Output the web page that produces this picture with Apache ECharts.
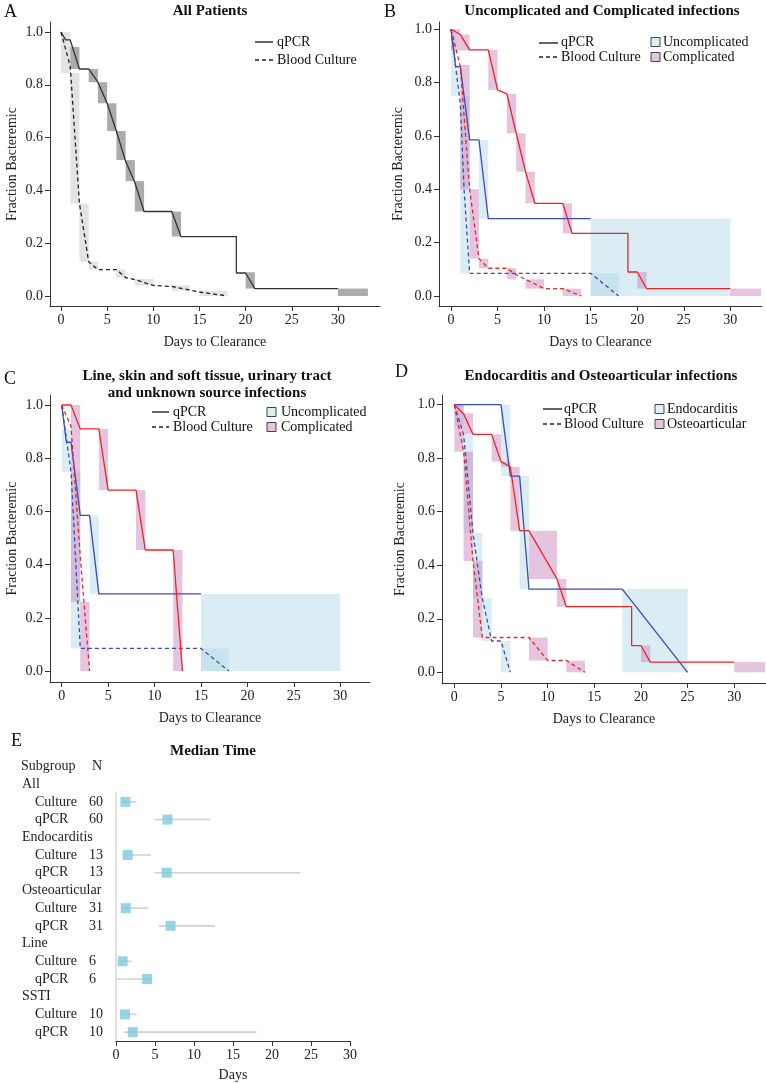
<!DOCTYPE html>
<html><head><meta charset="utf-8">
<script src="https://cdn.jsdelivr.net/npm/echarts@6/dist/echarts.min.js"></script>
<style>html,body{margin:0;padding:0;background:#fff}#c{width:766px;height:1083px}</style>
</head><body><div id="c"></div>
<script>
// ---------- Panel A: All patients ----------
const A_qpcr = [[0,1],[0.5,0.97],[1,0.97],[2,0.86],[3,0.86],[4,0.81],[5,0.73],[6,0.625],[7,0.51],[8,0.43],[9,0.32],[12,0.32],[13,0.225],[19,0.225],[19,0.087],[20,0.087],[21,0.028],[30,0.028]];
const A_culture = [[0,1],[1,0.87],[2,0.35],[3,0.13],[4,0.10],[6,0.10],[7,0.07],[8,0.062],[10,0.04],[12,0.036],[15,0.015],[18,0]];
const A_qpcrBox = [[1,2,0.86,0.944],[3,4,0.81,0.86],[4,5,0.73,0.81],[5,6,0.625,0.73],[6,7,0.515,0.625],[7,8,0.435,0.515],[8,9,0.32,0.435],[12,13,0.225,0.32],[20,21,0.028,0.09],[30,33.25,0,0.028]];
const A_cultureBox = [[0,1,0.845,1.0],[1,2,0.35,0.845],[2,3,0.13,0.35],[3,4,0.10,0.13],[6,7,0.07,0.10],[8,10,0.04,0.065],[12,14,0.02,0.04],[15,18,0,0.02]];

// ---------- Panel B: Uncomplicated vs Complicated ----------
const B_uncQpcr = [[0,1],[0.5,0.86],[1,0.86],[2,0.585],[3,0.585],[4,0.29],[15,0.29]];
const B_uncCulture = [[0,1],[1,0.72],[1.4,0.4],[2,0.085],[15,0.085],[18,0]];
const B_comQpcr = [[0,1],[1,0.98],[2,0.9225],[4,0.9225],[5,0.7725],[6,0.7575],[7,0.61],[8,0.466],[9,0.3475],[12,0.3475],[13,0.235],[19,0.235],[19,0.09],[20,0.09],[21,0.028],[30,0.028]];
const B_comCulture = [[0,1],[1,0.86],[2,0.4],[3,0.14],[4,0.104],[6,0.104],[7,0.08],[8,0.0625],[10,0.0275],[12,0.0275],[14,0]];
const B_uncBox = [[0,0.5,0.86,1.0],[0,1,0.75,0.86],[1,2,0.085,0.75],[3,4,0.29,0.585],[15,30,0,0.29],[15,18,0,0.085]];
const B_comBox = [[0,1,0.92,1.0],[1,2,0.92,0.98],[1,2,0.4,0.866],[2,3,0.14,0.4],[3,4,0.104,0.14],[4,5,0.7725,0.9225],[6,7,0.61,0.7575],[7,8,0.466,0.61],[8,9,0.3475,0.466],[6,7,0.0625,0.104],[8,10,0.0275,0.0625],[12,13,0.235,0.3475],[12,14,0,0.0275],[20,21,0.028,0.09],[30,33.3,0,0.028]];

// ---------- Panel C: Line, SSTI, urinary, unknown ----------
const C_uncQpcr = [[0,1],[0.5,0.86],[1,0.86],[2,0.585],[3,0.585],[4,0.29],[15,0.29]];
const C_uncCulture = [[0,1],[1,0.75],[1.5,0.42],[2,0.085],[15,0.085],[18,0]];
const C_comQpcr = [[0,1],[1,1],[2,0.91],[4,0.91],[5,0.68],[8,0.68],[9,0.455],[12,0.455],[13,0]];
const C_comCulture = [[0,1],[1,0.92],[2,0.43],[3,0]];
const C_uncBox = [[0,1,0.75,0.91],[1,2,0.085,0.75],[3,4,0.29,0.585],[15,30,0,0.29],[15,18,0,0.085]];
const C_comBox = [[1,2,0.26,1.0],[2,3,0,0.26],[4,5,0.68,0.91],[8,9,0.455,0.68],[12,13,0,0.455]];

// ---------- Panel D: Endocarditis vs Osteoarticular ----------
const D_endQpcr = [[0,1],[5,1],[6,0.733],[7,0.733],[8,0.311],[18,0.311],[25,0]];
const D_endCulture = [[0,1],[1,0.887],[2,0.52],[3,0.277],[4,0.117],[5,0.117],[6,0]];
const D_ostQpcr = [[0,1],[1,0.965],[2,0.889],[4,0.889],[5,0.787],[6,0.768],[7,0.529],[8,0.529],[11,0.349],[12,0.245],[19,0.245],[19,0.1],[20,0.1],[21,0.038],[30,0.038]];
const D_ostCulture = [[0,1],[1,0.824],[2,0.416],[3,0.13],[8,0.13],[10,0.044],[12,0.044],[14,0]];
const D_endBox = [[0,1,0.92,1.0],[1,2,0.52,0.887],[2,3,0.277,0.52],[3,4,0.117,0.277],[5,6,0.733,1.0],[7,8,0.311,0.733],[5,6,0,0.117],[18,25,0,0.311]];
const D_ostBox = [[0,1,0.824,1.0],[1,2,0.889,0.968],[1,2,0.416,0.824],[2,3,0.13,0.416],[4,5,0.787,0.889],[5,6,0.768,0.787],[6,7,0.529,0.768],[8,11,0.349,0.529],[11,12,0.245,0.349],[8,10,0.044,0.13],[12,14,0,0.044],[20,21,0.038,0.1],[30,33.3,0,0.038]];

// ---------- Panel E: Median time ----------
const E_groups = ['All','Endocarditis','Osteoarticular','Line','SSTI'];
const E_methods = ['Culture','qPCR'];
const E_N = [[60,60],[13,13],[31,31],[6,6],[10,10]];
const E_median = [[1.2,6.6],[1.5,6.5],[1.25,7.0],[0.85,4.0],[1.15,2.15]];
const E_ciLow = [[0.9,4.9],[0.85,4.9],[0.9,5.5],[0.5,0.15],[0.7,1.0]];
const E_ciHigh = [[2.55,12.05],[4.45,23.6],[4.15,12.7],[2.0,4.3],[2.65,18.0]];

const xTicks = [0,5,10,15,20,25,30];
const yTicks = [0,0.2,0.4,0.6,0.8,1.0];

// ---------- styling ----------
const FONT = '"Liberation Serif", "Times New Roman", serif';
const TXT = '#222';
const AX = '#333';
const RED = '#ee2424';
const BLUE = '#3c4cb4';
const C_BLUE_BOX = 'rgba(173,216,230,0.45)';
const C_PINK_BOX = 'rgba(200,130,190,0.47)';
const C_DARK_BOX = 'rgba(90,90,90,0.5)';
const C_LIGHT_BOX = 'rgba(150,150,150,0.27)';

const panels = [
  {grid:{left:50, top:22, width:330, height:284}, x:[-1.19,34.56], y:[-0.038,1.038], yGap:31},
  {grid:{left:439, top:22, width:323, height:284}, x:[-1.29,33.4], y:[-0.0375,1.027], yGap:34},
  {grid:{left:50, top:395, width:320, height:287}, x:[-1.26,33.2], y:[-0.041,1.0376], yGap:31},
  {grid:{left:442, top:395, width:324, height:288}, x:[-1.32,33.4], y:[-0.040,1.036], yGap:35}
];

const grids = panels.map(p => p.grid).concat([{left:116, top:793, width:234, height:248}]);
const labelStyle = {fontFamily:FONT, fontSize:14, color:TXT};

const xAxes = panels.map((p,i) => ({
  type:'value', gridIndex:i, min:p.x[0], max:p.x[1],
  splitLine:{show:false},
  axisLine:{show:true, onZero:false, lineStyle:{color:AX, width:1}},
  axisTick:{show:true, length:5, customValues:xTicks, lineStyle:{color:AX}},
  axisLabel:Object.assign({customValues:xTicks, margin:7}, labelStyle),
  name:'Days to Clearance', nameLocation:'middle', nameGap:29,
  nameTextStyle:labelStyle
}));
const yAxes = panels.map((p,i) => ({
  type:'value', gridIndex:i, min:p.y[0], max:p.y[1],
  splitLine:{show:false},
  axisLine:{show:true, onZero:false, lineStyle:{color:AX, width:1}},
  axisTick:{show:true, length:5, customValues:yTicks, lineStyle:{color:AX}},
  axisLabel:Object.assign({customValues:yTicks, margin:7, formatter:v => v.toFixed(1)}, labelStyle),
  name:'Fraction Bacteremic', nameLocation:'middle', nameGap:p.yGap,
  nameTextStyle:labelStyle
}));
xAxes.push({
  type:'value', gridIndex:4, min:0, max:30, interval:5,
  splitLine:{show:false},
  axisLine:{show:true, onZero:false, lineStyle:{color:AX}},
  axisTick:{show:true, length:5, lineStyle:{color:AX}},
  axisLabel:Object.assign({margin:7}, labelStyle),
  name:'Days', nameLocation:'middle', nameGap:27, nameTextStyle:labelStyle
});
yAxes.push({
  type:'value', gridIndex:4, min:0.5, max:14.5, inverse:true,
  splitLine:{show:false},
  axisLine:{show:true, onZero:false, lineStyle:{color:'#d6d6d6', width:1.5}},
  axisTick:{show:false}, axisLabel:{show:false}
});

function boxSeries(idx, data, color){
  return {
    type:'custom', xAxisIndex:idx, yAxisIndex:idx, data:data, z:1, silent:true,
    encode:{x:[0,1], y:[2,3]},
    renderItem:function(params, api){
      const a = api.coord([api.value(0), api.value(3)]);
      const b = api.coord([api.value(1), api.value(2)]);
      return {type:'rect', shape:{x:a[0], y:a[1], width:b[0]-a[0], height:b[1]-a[1]}, style:{fill:color}};
    }
  };
}
function lineSeries(idx, data, color, dashed){
  return {
    type:'line', xAxisIndex:idx, yAxisIndex:idx, data:data, z:3, silent:true,
    showSymbol:false, symbol:'none',
    lineStyle:{color:color, width:1.3, type: dashed ? [4,3] : 'solid'}
  };
}

const series = [
  boxSeries(0, A_cultureBox, C_LIGHT_BOX),
  boxSeries(0, A_qpcrBox, C_DARK_BOX),
  lineSeries(0, A_qpcr, '#333', false),
  lineSeries(0, A_culture, '#222', true),

  boxSeries(1, B_uncBox, C_BLUE_BOX),
  boxSeries(1, B_comBox, C_PINK_BOX),
  lineSeries(1, B_uncQpcr, BLUE, false),
  lineSeries(1, B_uncCulture, BLUE, true),
  lineSeries(1, B_comQpcr, RED, false),
  lineSeries(1, B_comCulture, RED, true),

  boxSeries(2, C_uncBox, C_BLUE_BOX),
  boxSeries(2, C_comBox, C_PINK_BOX),
  lineSeries(2, C_uncQpcr, BLUE, false),
  lineSeries(2, C_uncCulture, BLUE, true),
  lineSeries(2, C_comQpcr, RED, false),
  lineSeries(2, C_comCulture, RED, true),

  boxSeries(3, D_endBox, C_BLUE_BOX),
  boxSeries(3, D_ostBox, C_PINK_BOX),
  lineSeries(3, D_endQpcr, BLUE, false),
  lineSeries(3, D_endCulture, BLUE, true),
  lineSeries(3, D_ostQpcr, RED, false),
  lineSeries(3, D_ostCulture, RED, true)
];

// ---------- Panel E series ----------
const eTexts = [[-1,'Subgroup',-95],[-1,'N',-24]];
const eCI = [], ePts = [];
E_groups.forEach((g, gi) => {
  const base = gi*3;
  eTexts.push([base, g, -94]);
  E_methods.forEach((m, mi) => {
    const row = base + 1 + mi;
    eTexts.push([row, m, -81]);
    eTexts.push([row, String(E_N[gi][mi]), -27]);
    eCI.push([E_ciLow[gi][mi], E_ciHigh[gi][mi], row]);
    ePts.push([E_median[gi][mi], row]);
  });
});
series.push({
  type:'custom', xAxisIndex:4, yAxisIndex:4, data:eCI, z:2, silent:true,
  encode:{x:[0,1], y:2},
  renderItem:function(params, api){
    const a = api.coord([api.value(0), api.value(2)]);
    const b = api.coord([api.value(1), api.value(2)]);
    return {type:'line', shape:{x1:a[0], y1:a[1], x2:b[0], y2:b[1]}, style:{stroke:'#d0d0d0', lineWidth:1.6}};
  }
});
series.push({
  type:'scatter', xAxisIndex:4, yAxisIndex:4, data:ePts, z:3, silent:true,
  symbol:'rect', symbolSize:10, itemStyle:{color:'#7ecbdd'}
});
series.push({
  type:'custom', xAxisIndex:4, yAxisIndex:4, silent:true, clip:false, z:3,
  data:eTexts.map(t => [0, t[0]]),
  encode:{x:0, y:1},
  renderItem:function(params, api){
    const t = eTexts[params.dataIndex];
    const p = api.coord([0, api.value(1)]);
    return {type:'text', x:p[0] + t[2], y:p[1], style:{text:t[1], fill:TXT, font:'14px ' + FONT, align:'left', verticalAlign:'middle'}};
  }
});

// ---------- titles, letters, legends ----------
const titleFont = 'bold 15px ' + FONT;
const bodyFont = '14px ' + FONT;
function txt(x, y, s, font, align){
  return {type:'text', x:x, y:y, silent:true, style:{text:s, font:font, fill:'#111', align:align||'left', verticalAlign:'middle'}};
}
function seg(x1, x2, y, dashed){
  return {type:'line', silent:true, shape:{x1:x1, y1:y, x2:x2, y2:y}, style:{stroke:'#222', lineWidth:1.4, lineDash: dashed ? [4,3] : null}};
}
function sq(x, y, fill){
  return {type:'rect', silent:true, shape:{x:x, y:y-4.5, width:9, height:9}, style:{fill:fill, stroke:'#444', lineWidth:1}};
}
const graphics = [
  txt(4, 12, 'A', '18px ' + FONT), txt(210, 11, 'All Patients', titleFont, 'center'),
  txt(384, 12, 'B', '18px ' + FONT), txt(602, 11, 'Uncomplicated and Complicated infections', titleFont, 'center'),
  txt(4, 379, 'C', '18px ' + FONT),
  txt(207, 376, 'Line, skin and soft tissue, urinary tract', titleFont, 'center'),
  txt(207, 393, 'and unknown source infections', titleFont, 'center'),
  txt(395, 372, 'D', '18px ' + FONT), txt(601, 376, 'Endocarditis and Osteoarticular infections', titleFont, 'center'),
  txt(11, 741, 'E', '18px ' + FONT), txt(213, 751, 'Median Time', titleFont, 'center'),
  // legend A
  seg(255, 273, 42, false), txt(277, 42, 'qPCR', bodyFont),
  seg(255, 273, 60, true), txt(277, 60, 'Blood Culture', bodyFont),
  // legend B
  seg(539, 558, 43, false), txt(561, 42, 'qPCR', bodyFont),
  seg(539, 558, 57, true), txt(561, 57, 'Blood Culture', bodyFont),
  sq(651, 42, '#dcf0f6'), txt(663, 42, 'Uncomplicated', bodyFont),
  sq(651, 57, '#e5c6df'), txt(663, 57, 'Complicated', bodyFont),
  // legend C
  seg(152, 169, 412, false), txt(173, 412, 'qPCR', bodyFont),
  seg(152, 169, 427, true), txt(173, 427, 'Blood Culture', bodyFont),
  sq(267, 412, '#dcf0f6'), txt(281, 412, 'Uncomplicated', bodyFont),
  sq(267, 427, '#e5c6df'), txt(281, 427, 'Complicated', bodyFont),
  // legend D
  seg(543, 562, 409, false), txt(564, 409, 'qPCR', bodyFont),
  seg(543, 562, 424, true), txt(564, 424, 'Blood Culture', bodyFont),
  sq(655, 409, '#dcf0f6'), txt(667, 409, 'Endocarditis', bodyFont),
  sq(655, 424, '#e5c6df'), txt(667, 424, 'Osteoarticular', bodyFont)
];

const chart = echarts.init(document.getElementById('c'));
chart.setOption({
  animation:false,
  backgroundColor:'#ffffff',
  grid:grids,
  xAxis:xAxes,
  yAxis:yAxes,
  series:series,
  graphic:graphics
});
</script></body></html>
